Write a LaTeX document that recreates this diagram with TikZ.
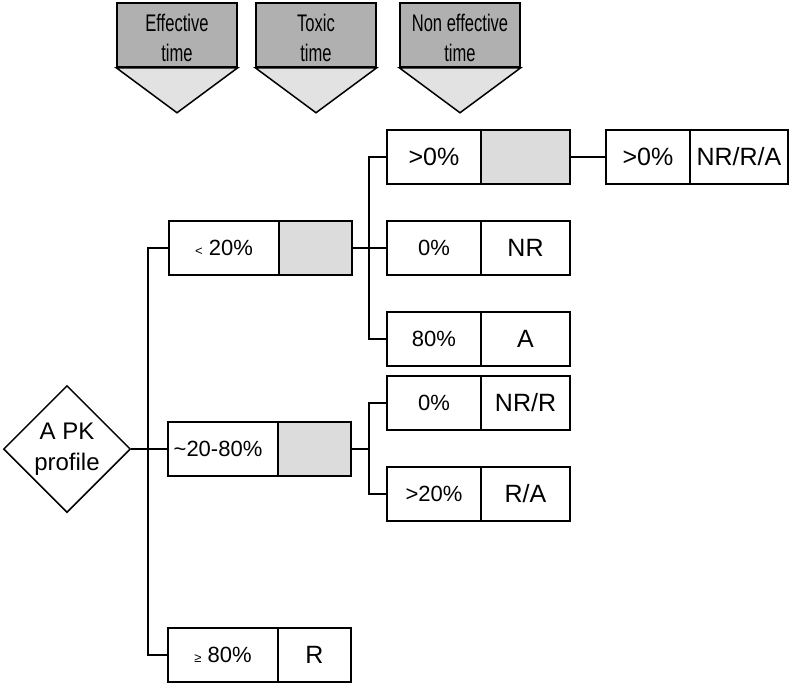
\documentclass[tikz,border=0pt]{standalone}
\usepackage{fontspec}
\setmainfont{Liberation Sans}
\usepackage{graphicx}
\usetikzlibrary{shapes.geometric,positioning,calc}

\definecolor{hdrdark}{HTML}{B0B0B0}
\definecolor{hdrlight}{HTML}{E2E2E2}
\definecolor{boxgray}{HTML}{DCDCDC}

\tikzset{
  wire/.style={line width=1.5pt},
  part/.style={draw, line width=1.5pt, minimum height=54pt, inner sep=0pt, outer sep=0pt},
  pct/.style={part, font=\fontsize{22}{24}\selectfont},
  res/.style={part, font=\fontsize{25}{26}\selectfont},
  open/.style={part, fill=boxgray},
  header/.style={draw, line width=1.5pt, fill=hdrdark, minimum width=120pt, minimum height=64pt, inner sep=0pt},
  hdrtext/.style={inner sep=0pt, font=\fontsize{24}{30}\selectfont},
  decision/.style={draw, diamond, aspect=1, line width=1.5pt, minimum size=127pt, inner sep=0pt, align=center, font=\fontsize{24}{31}\selectfont}
}

\begin{document}
\begin{tikzpicture}[x=1pt,y=-1pt]
  \useasboundingbox (0,0) rectangle (792,686);

  % column headers
  \foreach \i/\x/\txt in {1/177/{Effective\\time}, 2/316/{Toxic\\time}, 3/460/{Non effective\\time}} {
    \node[header] (h_\i) at (\x,35) {};
    \node[hdrtext] at ($(h_\i.center)+(0,5)$) {\scalebox{0.69}[1]{\begin{tabular}{@{}c@{}}\txt\end{tabular}}};
    \draw[line width=1.5pt, fill=hdrlight] (h_\i.south west) -- (h_\i.south east) -- ($(h_\i.south)+(0,45)$) -- cycle;
  }

  \node[decision] (pk) at (67,449) {A PK\\profile};

  % effective time
  \node[pct, minimum width=110pt] (e_1) at (224,248) {{\fontsize{13}{13}\selectfont<} 20\%};
  \node[open, minimum width=73pt, right=0pt of e_1] (e_1r) {};
  \node[pct, minimum width=110pt] (e_2) at (223,449) {\hspace*{-10pt}\textasciitilde20-80\%};
  \node[open, minimum width=73pt, right=0pt of e_2] (e_2r) {};
  \node[pct, minimum width=110pt] (e_3) at (223,655) {{\fontsize{13}{13}\selectfont ≥} 80\%};
  \node[res, minimum width=73pt, right=0pt of e_3] (e_3r) {R};

  % toxic time
  \node[res, minimum width=94pt] (t_1) at (434,157) {>0\%};
  \node[open, minimum width=89pt, right=0pt of t_1] (t_1r) {};
  \node[pct, minimum width=94pt] (t_2) at (434,248) {0\%};
  \node[res, minimum width=89pt, right=0pt of t_2] (t_2r) {NR};
  \node[pct, minimum width=94pt] (t_3) at (434,339) {80\%};
  \node[res, minimum width=89pt, right=0pt of t_3] (t_3r) {A};
  \node[pct, minimum width=94pt] (t_4) at (434,403) {0\%};
  \node[res, minimum width=89pt, right=0pt of t_4] (t_4r) {NR/R};
  \node[pct, minimum width=94pt] (t_5) at (434,494) {>20\%};
  \node[res, minimum width=89pt, right=0pt of t_5] (t_5r) {R/A};

  % non effective time
  \node[res, minimum width=84pt] (n_1) at (648,157) {>0\%};
  \node[res, minimum width=98pt, right=0pt of n_1] (n_1r) {NR/R/A};

  \draw[wire] (pk.east) -- (e_2.west);
  \draw[wire] (e_1.west) -- ++(-21,0) |- (e_3.west);
  \draw[wire] (e_1r.east) -- (t_2.west);
  \draw[wire] (t_1.west) -- ++(-18,0) |- (t_3.west);
  \draw[wire] (e_2r.east) -- ++(18,0);
  \draw[wire] (t_4.west) -- ++(-18,0) |- (t_5.west);
  \draw[wire] (t_1r.east) -- (n_1.west);
\end{tikzpicture}
\end{document}
